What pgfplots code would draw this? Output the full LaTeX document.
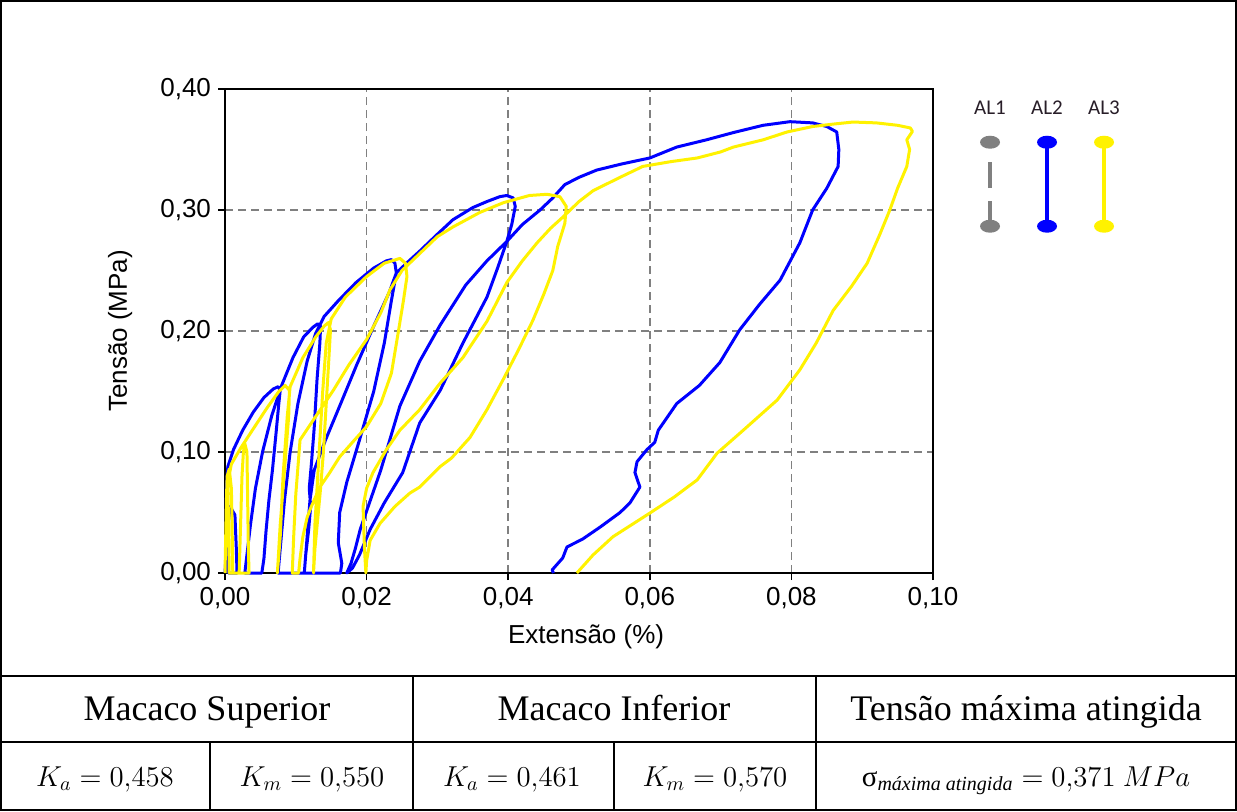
\documentclass[border=0pt]{standalone}
\usepackage{fontspec}
\usepackage{pgfplots}
\pgfplotsset{compat=1.18}
\setmainfont{Liberation Serif}
\newfontfamily\chartfont{Liberation Sans}
\newfontfamily\legfont{Carlito}
\definecolor{gridgray}{RGB}{128,128,128}
\definecolor{legtext}{RGB}{40,30,40}
\begin{document}
\begin{tikzpicture}[x=0.5pt,y=0.5pt]
\useasboundingbox (0,0) rectangle (1237,811);
\begin{axis}[
  at={(112.5pt,119pt)}, anchor=south west,
  scale only axis, width=354pt, height=242pt,
  xmin=0, xmax=0.1, ymin=0, ymax=0.4,
  xtick={0,0.02,0.04,0.06,0.08,0.1},
  ytick={0,0.1,0.2,0.3,0.4},
  scaled x ticks=false, scaled y ticks=false,
  /pgf/number format/fixed, /pgf/number format/fixed zerofill,
  /pgf/number format/precision=2, /pgf/number format/use comma,
  /pgf/number format/assume math mode=true,
  tick label style={font=\chartfont\fontsize{13}{15}\selectfont},
  xlabel={Extensão (\%)}, ylabel={Tensão (MPa)},
  every axis x label/.style={at={(axis description cs:0.51,-0.132)},anchor=center,font=\chartfont\fontsize{13}{15}\selectfont},
  every axis y label/.style={at={(axis description cs:-0.148,0.5)},anchor=center,rotate=90,font=\chartfont\fontsize{13}{15}\selectfont},
  axis line style={black, line width=1pt},
  tick style={black, line width=0.8pt}, major tick length=3.5pt,
  tick align=outside, tick pos=left,
  grid=major, major grid style={gridgray, dash pattern=on 4pt off 2.5pt, line width=0.8pt},
  clip=false,
  legend columns=3,
  legend style={at={(axis description cs:1.0417,0.983)}, anchor=north west,
    draw=none, fill=none, inner sep=0pt, outer sep=0pt,
    nodes={inner sep=0pt, outer sep=0pt},
    /tikz/every even column/.append style={column sep=0pt},
    /tikz/every odd column/.append style={column sep=0pt}},
]
\addplot[blue, line width=1.5pt, line join=round, forget plot] coordinates {
(0,0) (0.0003,0.030) (0.0007,0.055) (0.0014,0.048) (0.0016,0.020) (0.0017,0.000)
(0.0005,0.000) (0.0002,0.040) (0.0002,0.070) (0.0004,0.088) (0.0012,0.102)
(0.0025,0.118) (0.0040,0.133) (0.0055,0.145) (0.0068,0.152) (0.0075,0.154)
(0.0078,0.151) (0.0076,0.140) (0.0072,0.115) (0.0067,0.085) (0.0062,0.060)
(0.0058,0.035) (0.0055,0.012) (0.0052,0.000) (0.0028,0.000)
(0.0031,0.015) (0.0036,0.040) (0.0043,0.070) (0.0053,0.100) (0.0066,0.130)
(0.0080,0.155) (0.0096,0.178) (0.0111,0.195) (0.0124,0.203) (0.0131,0.206)
(0.0135,0.204) (0.0134,0.190) (0.0130,0.160) (0.0126,0.120) (0.0122,0.090)
(0.0119,0.070) (0.0121,0.055) (0.0118,0.035) (0.0114,0.015) (0.0112,0.000)
(0.0075,0.000)
(0.0078,0.020) (0.0084,0.060) (0.0092,0.100) (0.0103,0.140) (0.0116,0.175)
(0.0128,0.198) (0.0140,0.212) (0.0160,0.225) (0.0185,0.240) (0.0210,0.252)
(0.0228,0.258) (0.0235,0.259) (0.0240,0.256) (0.0242,0.248)
(0.0235,0.225) (0.0225,0.190) (0.0210,0.150) (0.0190,0.110) (0.0172,0.075)
(0.0162,0.050) (0.0160,0.025) (0.0165,0.008) (0.0163,0.000) (0.0112,0.000)
(0.0116,0.030) (0.0120,0.060) (0.0126,0.085) (0.0142,0.110) (0.0162,0.138)
(0.0186,0.172) (0.0210,0.204) (0.0232,0.232) (0.0242,0.248)
(0.0260,0.258) (0.0275,0.266) (0.0300,0.280) (0.0322,0.292) (0.0350,0.302)
(0.0370,0.307) (0.0388,0.311) (0.0398,0.312) (0.0407,0.310) (0.0410,0.303)
(0.0405,0.288) (0.0398,0.274) (0.0385,0.252) (0.0370,0.228) (0.0336,0.190)
(0.0304,0.151) (0.0275,0.124) (0.0251,0.083) (0.0225,0.058) (0.0205,0.036)
(0.0190,0.015) (0.0180,0.004) (0.0172,0.000)
(0.0178,0.008) (0.0184,0.020) (0.0191,0.036) (0.0220,0.085) (0.0247,0.138)
(0.0275,0.175) (0.0304,0.205) (0.0340,0.238) (0.0370,0.258) (0.0398,0.274)
(0.0420,0.288) (0.0445,0.300) (0.0463,0.310) (0.0480,0.321) (0.0500,0.327)
(0.0525,0.333) (0.0560,0.338) (0.0600,0.343) (0.0638,0.352) (0.0680,0.358)
(0.0718,0.364) (0.0760,0.370) (0.0798,0.373) (0.0830,0.372) (0.0850,0.369)
(0.0864,0.3645) (0.0867,0.350) (0.0866,0.336) (0.0850,0.318) (0.0830,0.300)
(0.0812,0.273) (0.0784,0.242) (0.0755,0.222) (0.0727,0.201) (0.0699,0.174)
(0.0670,0.155) (0.0638,0.140) (0.0612,0.118) (0.0607,0.108) (0.0596,0.102)
(0.0582,0.092) (0.0579,0.083) (0.0586,0.071) (0.0572,0.058) (0.0558,0.050)
(0.0530,0.038) (0.0505,0.028) (0.0483,0.0215) (0.0477,0.0124) (0.0462,0.0025)
(0.0464,0.000)
};
\addplot[yellow, line width=1.5pt, line join=round, forget plot] coordinates {
(0,0) (0.0001,0.030) (0.0002,0.060) (0.0003,0.080) (0.0006,0.086) (0.0009,0.070)
(0.0010,0.040) (0.0011,0.000) (0.0020,0.000) (0.0022,0.040) (0.0024,0.080)
(0.0026,0.100) (0.0028,0.107) (0.0031,0.100) (0.0032,0.060) (0.0033,0.020)
(0.0034,0.000) (0.0006,0.000) (0.0005,0.040) (0.0004,0.075) (0.0009,0.090)
(0.0023,0.104) (0.0042,0.121) (0.0060,0.137) (0.0076,0.150) (0.0085,0.155)
(0.0091,0.151) (0.0090,0.130) (0.0086,0.100) (0.0082,0.070) (0.0078,0.040)
(0.0075,0.010) (0.0074,0.000)
(0.0078,0.030) (0.0082,0.080) (0.0088,0.130) (0.0092,0.154) (0.0110,0.178)
(0.0128,0.195) (0.0140,0.204) (0.0146,0.207) (0.0149,0.201)
(0.0147,0.180) (0.0143,0.140) (0.0139,0.100) (0.0135,0.070) (0.0131,0.045)
(0.0127,0.020) (0.0125,0.000)
(0.0127,0.040) (0.0132,0.090) (0.0138,0.150) (0.0143,0.190) (0.0150,0.210)
(0.0170,0.228) (0.0200,0.245) (0.0225,0.256) (0.0247,0.260) (0.0255,0.256)
(0.0257,0.245) (0.0252,0.225) (0.0245,0.200) (0.0235,0.165) (0.0220,0.140)
(0.0200,0.121) (0.0180,0.108) (0.0162,0.096) (0.0148,0.083) (0.0134,0.071)
(0.0122,0.055) (0.0116,0.046) (0.0110,0.030) (0.0106,0.012) (0.0104,0.000)
(0.0095,0.000)
(0.0097,0.030) (0.0100,0.065) (0.0106,0.110) (0.0130,0.131) (0.0153,0.151)
(0.0175,0.172) (0.0200,0.193) (0.0220,0.215) (0.0233,0.234) (0.0250,0.250)
(0.0275,0.264) (0.0300,0.278) (0.0322,0.286) (0.0360,0.298) (0.0393,0.306)
(0.0430,0.312) (0.0455,0.313) (0.0473,0.311) (0.0482,0.303) (0.0480,0.289)
(0.0470,0.270) (0.0463,0.250) (0.0450,0.230) (0.0435,0.209) (0.0415,0.185)
(0.0393,0.160) (0.0370,0.135) (0.0346,0.112) (0.0320,0.095) (0.0304,0.088)
(0.0275,0.071) (0.0261,0.066) (0.0240,0.055) (0.0219,0.041) (0.0205,0.027)
(0.0200,0.010) (0.0199,0.000)
(0.0197,0.020) (0.0195,0.055) (0.0200,0.070) (0.0209,0.083) (0.0228,0.102)
(0.0247,0.118) (0.0275,0.135) (0.0304,0.157) (0.0336,0.178) (0.0370,0.208)
(0.0398,0.240) (0.0420,0.258) (0.0441,0.273) (0.0460,0.285) (0.0477,0.294)
(0.0500,0.307) (0.0520,0.316) (0.0558,0.327) (0.0590,0.336) (0.0630,0.340)
(0.0667,0.343) (0.0700,0.348) (0.0718,0.352) (0.0760,0.358) (0.0794,0.3645)
(0.0830,0.369) (0.0859,0.371) (0.0887,0.3727) (0.0920,0.372) (0.0950,0.370)
(0.0968,0.3678) (0.0971,0.365) (0.0963,0.358) (0.0967,0.350) (0.0963,0.336)
(0.0950,0.318) (0.0939,0.300) (0.0925,0.280) (0.0907,0.256) (0.0885,0.237)
(0.0859,0.217) (0.0835,0.190) (0.0812,0.168) (0.0780,0.143) (0.0732,0.118)
(0.0695,0.099) (0.0667,0.077) (0.0635,0.063) (0.0600,0.0495) (0.0548,0.030)
(0.0520,0.015) (0.0497,0.000)
};
\addlegendimage{legend image code/.code={
  \path[draw=none,fill=none] (-13.75pt,6pt) rectangle (13.75pt,-62pt);
  \node[font=\legfont\fontsize{10.5}{12}\selectfont, text=legtext, inner sep=0pt, draw=none] at (0pt,0pt) {AL1};
  \draw[gridgray, line width=2pt, dash pattern=on 12.5pt off 6.5pt on 13pt off 50pt] (0pt,-58.5pt) -- (0pt,-16.5pt);
  \fill[gridgray, draw=none] (0pt,-16.5pt) ellipse [x radius=5pt, y radius=3.25pt];
  \fill[gridgray, draw=none] (0pt,-58.5pt) ellipse [x radius=5pt, y radius=3.25pt];
}}
\addlegendimage{legend image code/.code={
  \path[draw=none,fill=none] (-13.75pt,6pt) rectangle (13.75pt,-62pt);
  \node[font=\legfont\fontsize{10.5}{12}\selectfont, text=legtext, inner sep=0pt, draw=none] at (0pt,0pt) {AL2};
  \draw[blue, line width=2pt] (0pt,-58.5pt) -- (0pt,-16.5pt);
  \fill[blue, draw=none] (0pt,-16.5pt) ellipse [x radius=5pt, y radius=3.25pt];
  \fill[blue, draw=none] (0pt,-58.5pt) ellipse [x radius=5pt, y radius=3.25pt];
}}
\addlegendimage{legend image code/.code={
  \path[draw=none,fill=none] (-13.75pt,6pt) rectangle (13.75pt,-62pt);
  \node[font=\legfont\fontsize{10.5}{12}\selectfont, text=legtext, inner sep=0pt, draw=none] at (0pt,0pt) {AL3};
  \draw[yellow, line width=2pt] (0pt,-58.5pt) -- (0pt,-16.5pt);
  \fill[yellow, draw=none] (0pt,-16.5pt) ellipse [x radius=5pt, y radius=3.25pt];
  \fill[yellow, draw=none] (0pt,-58.5pt) ellipse [x radius=5pt, y radius=3.25pt];
}}
\legend{\mbox{},\mbox{},\mbox{}}
\end{axis}
% frame and table
\draw[line width=1pt] (1,1) rectangle (1236,810);
\draw[line width=1pt] (1,135) -- (1236,135);
\draw[line width=1pt] (1,69) -- (1236,69);
\draw[line width=1pt] (413,135) -- (413,1);
\draw[line width=1pt] (816,135) -- (816,1);
\draw[line width=1pt] (210,69) -- (210,1);
\draw[line width=1pt] (614,69) -- (614,1);
\begin{scope}[every node/.style={font=\fontsize{18}{21}\selectfont, inner sep=0pt, anchor=base}]
\node at (207,91) {Macaco Superior};
\node at (614,91) {Macaco Inferior};
\node at (1026,91) {Tensão máxima atingida};
\end{scope}
\begin{scope}[every node/.style={font=\fontsize{14.5}{17}\selectfont, inner sep=0pt, anchor=base}]
\node at (105,25) {$K_a = 0{,}458$};
\node at (312,25) {$K_m = 0{,}550$};
\node at (512,25) {$K_a = 0{,}461$};
\node at (715,25) {$K_m = 0{,}570$};
\node at (1026,25) {$\mbox{σ}_{\mbox{\fontsize{10}{12}\selectfont\itshape máxima atingida}} = 0{,}371\ MPa$};
\end{scope}
\end{tikzpicture}
\end{document}
